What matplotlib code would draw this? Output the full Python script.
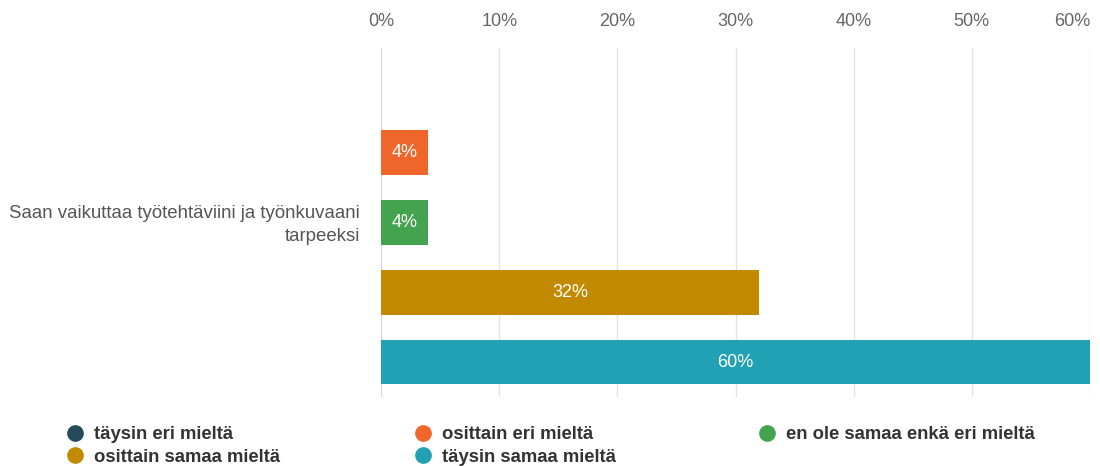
import matplotlib.pyplot as plt
from matplotlib.lines import Line2D
from matplotlib.ticker import FuncFormatter

plt.rcParams['font.family'] = ['Liberation Sans', 'DejaVu Sans']

category = 'Saan vaikuttaa työtehtäviini ja työnkuvaani\ntarpeeksi'
series = ['täysin eri mieltä', 'osittain eri mieltä', 'en ole samaa enkä eri mieltä',
          'osittain samaa mieltä', 'täysin samaa mieltä']
values = [0, 4, 4, 32, 60]
colors = ['#254a5a', '#f0652a', '#43a34f', '#c18a00', '#22a0b4']
xticks = [0, 10, 20, 30, 40, 50, 60]

fig = plt.figure(figsize=(11, 4.66), dpi=100)
ax = fig.add_axes([0.3464, 0.148, 0.6445, 0.749])

pos = list(range(len(series)))
ax.barh(pos, values, height=0.64, color=colors, zorder=3)
for p, v in zip(pos, values):
    if v > 0:
        ax.text(v / 2, p, f'{v}%', ha='center', va='center', color='white', fontsize=13, zorder=4)

ax.set_xlim(0, 60)
ax.set_ylim(4.5, -0.5)
ax.set_xticks(xticks)
ax.xaxis.set_major_formatter(FuncFormatter(lambda x, _: f'{x:.0f}%'))
ax.xaxis.tick_top()
ax.tick_params(axis='x', length=0, pad=13, labelsize=13, labelcolor='#666666')
ax.get_xticklabels()[-1].set_horizontalalignment('right')
ax.set_yticks([])
ax.grid(axis='x', color='#e3e3e3', linewidth=1, zorder=0)
for s in ax.spines.values():
    s.set_visible(False)
ax.axvline(0, color='#ccd6eb', linewidth=1.2, zorder=2)

fig.text(0.327, 1 - 225 / 466, category, ha='right', va='center', fontsize=13.4,
         color='#555555', linespacing=1.4)

def handle(c):
    return Line2D([], [], marker='o', linestyle='none', markersize=11,
                  markerfacecolor=c, markeredgecolor=c)

# legend columns laid out row by row
cols = [[0, 3], [1, 4], [2]]
xs = [66 / 1100, 414 / 1100, 758 / 1100]
for col, x in zip(cols, xs):
    fig.legend([handle(colors[i]) for i in col], [series[i] for i in col],
               loc='upper left', bbox_to_anchor=(x, 1 - 426 / 466), frameon=False,
               borderpad=0, borderaxespad=0, handlelength=1.0, handletextpad=0.5,
               labelspacing=0.3, prop={'size': 13.3, 'weight': 'bold'},
               labelcolor='#333333')

fig.savefig('out.png', dpi=100)
